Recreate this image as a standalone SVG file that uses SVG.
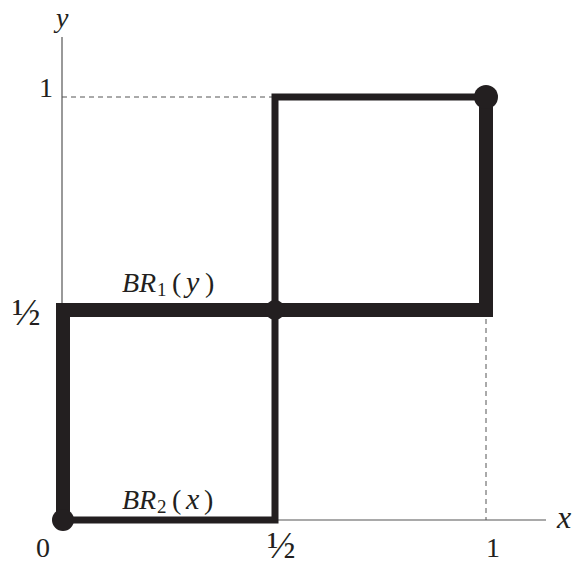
<svg xmlns="http://www.w3.org/2000/svg" width="577" height="565" viewBox="0 0 577 565">
<style>
.axis{stroke:#555;stroke-width:1.2;fill:none}
.dash{stroke:#555;stroke-width:1;stroke-dasharray:5,4;fill:none}
.thin{stroke:#231f20;stroke-width:7;fill:none;stroke-linejoin:miter}
.thick{stroke:#231f20;stroke-width:14;fill:none;stroke-linejoin:miter}
.dot{fill:#231f20}
text{font-family:"Liberation Serif","DejaVu Serif",serif;fill:#231f20}
.num{font-size:28px}
.half{font-size:38px}
.it{font-style:italic}
</style>
<g id="axes">
<line class="axis" x1="62" y1="37" x2="62" y2="520"/>
<line class="axis" x1="62" y1="520" x2="546" y2="520"/>
<line class="dash" x1="62" y1="97" x2="275" y2="97"/>
<line class="dash" x1="486" y1="310" x2="486" y2="520"/>
<text class="it" x="56" y="27" font-size="28">y</text>
<text class="it" x="557" y="528" font-size="32">x</text>
<text class="num" x="39" y="97">1</text>
<text class="half" x="12" y="325">½</text>
<text class="num" x="36" y="557">0</text>
<text class="half" x="267" y="558">½</text>
<text class="num" x="486" y="557">1</text>
</g>
<g id="connectors">
<polyline id="BR2" class="thin" points="62,520 275,520 275,97 486,97"/>
<polyline id="BR1" class="thick" points="63,520 63,310 486,310 486,97"/>
</g>
<g id="eq0"><circle class="dot" cx="63" cy="520" r="11"/></g>
<g id="eqMid"><circle class="dot" cx="275" cy="310" r="10"/></g>
<g id="eq1"><circle class="dot" cx="486" cy="97" r="12"/></g>
<g id="label-BR1">
<text font-size="28"><tspan class="it" x="122" y="292">BR</tspan><tspan x="157" y="296" font-size="19">1</tspan><tspan x="172" y="292">(</tspan><tspan class="it" x="186" y="292" font-size="30">y</tspan><tspan x="205" y="292">)</tspan></text>
</g>
<g id="label-BR2">
<text font-size="28"><tspan class="it" x="122" y="509">BR</tspan><tspan x="157" y="513" font-size="19">2</tspan><tspan x="172" y="509">(</tspan><tspan class="it" x="186" y="509" font-size="30">x</tspan><tspan x="204" y="509">)</tspan></text>
</g>
</svg>
